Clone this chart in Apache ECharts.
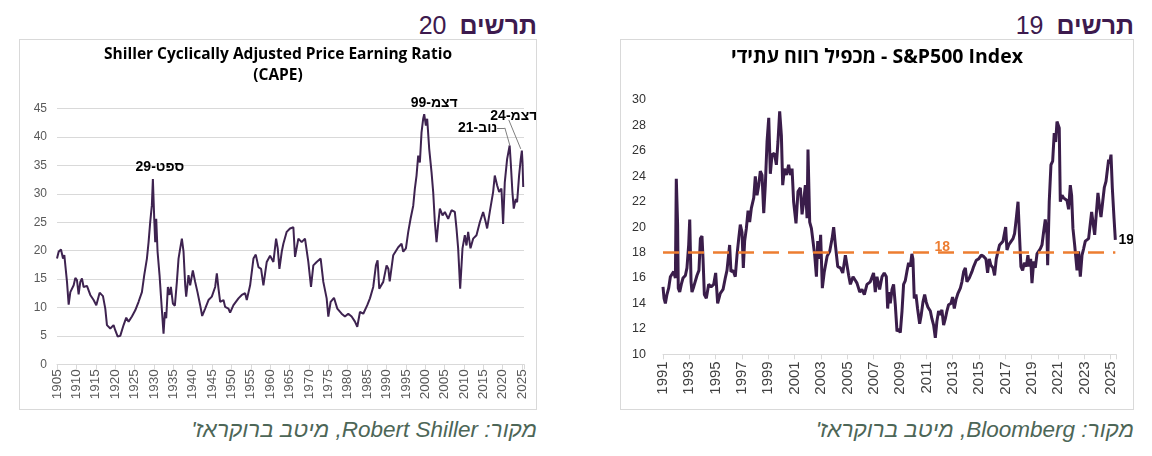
<!DOCTYPE html>
<html lang="he">
<head>
<meta charset="utf-8">
<script src="https://cdn.jsdelivr.net/npm/echarts@6/dist/echarts.min.js"></script>
<style>
  body { margin: 0; width: 1152px; height: 456px; background: #fff; overflow: hidden;
         font-family: "Liberation Sans", "DejaVu Sans", Arial, sans-serif; }
  .head { position: absolute; top: 11px; font-size: 25px; color: #3d1a4e; direction: rtl; white-space: nowrap; }
  .head b { font-weight: bold; }
  .head .num { margin-right: 13px; }
  .box { position: absolute; top: 39px; height: 371px; border: 1px solid #d9d9d9; box-sizing: border-box; }
  .chart { position: absolute; left: 0; top: 0; width: 100%; height: 100%; }
  .ttl { position: absolute; left: 0; right: 0; text-align: center; font-family: "Open Sans", "DejaVu Sans", sans-serif;
         font-weight: bold; color: #000; z-index: 2; white-space: nowrap; }
  .src { position: absolute; top: 417px; font-size: 22.5px; font-style: italic; color: #4d6657; direction: rtl; white-space: nowrap; }
</style>
</head>
<body>

<div class="head" style="right:615px"><b>תרשים</b><span class="num">20</span></div>
<div class="box" style="left:19px;width:518px">
  <div class="ttl" style="top:3px;font-size:15.5px;line-height:21px">Shiller Cyclically Adjusted Price Earning Ratio<br>(CAPE)</div>
  <div id="cape" class="chart"></div>
</div>
<div class="src" style="right:615px">מקור: Robert Shiller, מיטב ברוקראז'</div>

<div class="head" style="right:18px"><b>תרשים</b><span class="num">19</span></div>
<div class="box" style="left:620px;width:514px">
  <div class="ttl" style="top:3px;font-size:19.5px;line-height:26px">מכפיל רווח עתידי - S&amp;P500 Index</div>
  <div id="pe" class="chart"></div>
</div>
<div class="src" style="right:18px">מקור: Bloomberg, מיטב ברוקראז'</div>

<script>
// Shiller CAPE, [year, ratio]
const capePoints = [
  [1905.0,18.6],[1905.43,19.8],[1906.03,20.2],[1906.55,18.6],[1906.89,19.2],[1907.58,14.5],[1908.01,10.5],
  [1908.44,12.7],[1909.3,13.9],[1909.73,15.2],[1910.15,14.8],[1910.58,12.3],[1911.01,14.5],[1911.44,15.1],
  [1911.87,13.6],[1912.73,13.8],[1913.59,12.2],[1914.45,11.3],[1915.14,10.4],[1916.0,12.6],[1916.86,12.0],
  [1917.46,9.8],[1917.89,6.9],[1918.75,6.3],[1919.6,6.9],[1920.03,6.0],[1920.64,4.9],[1921.32,5.0],
  [1922.18,6.9],[1922.87,8.2],[1923.47,7.5],[1924.33,8.4],[1925.19,9.5],[1926.05,11.0],[1926.91,12.7],
  [1927.51,15.7],[1928.2,18.6],[1928.63,21.5],[1929.05,25.0],[1929.48,28.0],[1929.74,32.6],[1930.09,25.6],
  [1930.34,21.5],[1930.6,25.6],[1930.95,19.8],[1931.46,15.7],[1931.8,12.2],[1932.15,8.7],[1932.49,5.4],
  [1932.84,9.2],[1933.18,8.1],[1933.61,13.6],[1934.04,12.2],[1934.38,13.6],[1934.9,10.7],[1935.41,10.3],
  [1935.93,14.5],[1936.36,18.6],[1936.79,20.4],[1937.22,22.1],[1937.65,19.8],[1938.08,13.9],[1938.33,11.9],
  [1938.93,15.7],[1939.36,13.9],[1940.05,16.5],[1940.65,14.5],[1941.25,12.7],[1941.94,10.4],[1942.46,8.5],
  [1943.23,9.8],[1944.09,11.3],[1944.95,11.9],[1945.81,13.6],[1946.24,16.0],[1946.67,13.3],[1947.1,11.0],
  [1947.96,11.3],[1948.38,10.1],[1949.24,9.8],[1949.67,9.1],[1950.53,10.4],[1951.82,11.6],[1952.68,12.2],
  [1953.54,12.5],[1953.97,11.3],[1954.83,13.9],[1955.69,18.6],[1956.29,19.3],[1956.98,17.1],[1957.66,16.8],
  [1958.26,13.9],[1959.12,18.0],[1959.98,19.1],[1960.84,18.0],[1961.53,22.1],[1961.96,20.4],[1962.39,16.8],
  [1962.99,19.8],[1963.41,21.2],[1963.85,21.5],[1964.27,23.3],[1964.71,23.3],[1965.13,23.9],[1965.99,24.1],
  [1966.42,18.9],[1967.28,22.1],[1968.13,21.5],[1968.99,22.1],[1969.85,18.0],[1970.54,13.6],[1971.14,17.4],
  [1972.0,18.0],[1973.03,18.6],[1973.72,14.5],[1974.58,11.6],[1975.01,8.4],[1975.61,11.0],[1976.47,11.7],
  [1977.33,9.8],[1978.44,8.9],[1979.3,8.4],[1980.16,8.9],[1981.02,8.4],[1981.88,7.5],[1982.48,6.6],
  [1983.17,9.2],[1984.03,8.9],[1985.06,10.4],[1985.75,11.6],[1986.6,13.6],[1987.29,17.4],[1987.72,18.3],
  [1988.15,13.3],[1989.18,14.5],[1990.04,17.4],[1990.5,16.8],[1990.85,14.6],[1991.76,19.2],[1993.05,20.6],
  [1993.91,21.2],[1994.34,19.8],[1995.03,20.4],[1995.63,23.3],[1996.23,25.6],[1996.92,27.9],[1997.34,30.9],
  [1997.77,33.2],[1998.2,36.7],[1998.63,35.5],[1999.06,40.8],[1999.49,43.2],[1999.75,44.0],[2000.18,42.0],
  [2000.52,43.2],[2001.04,37.9],[2001.64,33.8],[2002.07,30.3],[2002.5,25.0],[2002.93,21.5],[2003.36,24.7],
  [2003.79,27.4],[2004.48,26.2],[2005.08,26.8],[2005.94,25.6],[2006.79,27.1],[2007.65,26.8],[2008.08,23.9],
  [2008.51,20.4],[2009.03,13.3],[2009.63,20.4],[2010.23,22.7],[2010.66,20.9],[2011.09,23.3],[2011.69,20.4],
  [2012.38,22.1],[2013.24,22.7],[2014.1,25.0],[2014.96,26.8],[2015.64,25.0],[2015.99,23.9],[2016.67,26.8],
  [2017.53,30.3],[2017.96,33.2],[2018.56,31.5],[2019.08,30.3],[2019.68,30.9],[2020.11,24.7],[2020.54,32.0],
  [2021.14,36.1],[2021.8,38.5],[2022.08,35.5],[2022.51,30.3],[2022.86,27.4],[2023.37,29.1],[2023.72,28.5],
  [2024.23,33.2],[2024.66,36.1],[2024.95,37.6],[2025.12,35.5],[2025.3,31.2]
];

// peaks that carry a date label: [text, year, ratio, label offset px]
const capeNotes = [
  ['ספט-29', 1929.74, 32.6, [7, -12]],
  ['דצמ-99', 1999.75, 44.0, [10, -11]],
  ['נוב-21', 2021.8, 38.5, [-32, -17]],
  ['דצמ-24', 2024.95, 37.6, [-8, -34]]
];

// grey leader lines from the two late labels down to their peaks
const capeLeaders = [
  [[2018.5, 41.6], [2020.56, 41.6]],
  [[2020.56, 41.6], [2021.85, 38.5]],
  [[2021.57, 43.0], [2024.66, 37.9]]
];

// S&P500 forward P/E, [year, multiple]
const pePoints = [
  [1991.0,15.3],[1991.08,14.4],[1991.18,14.0],[1991.3,14.7],[1991.43,15.2],[1991.56,16.1],[1991.68,16.2],
  [1991.81,16.5],[1991.94,16.0],[1992.01,23.8],[1992.11,20.2],[1992.16,15.2],[1992.27,14.9],[1992.39,15.5],
  [1992.52,16.0],[1992.7,16.2],[1992.82,16.8],[1992.95,18.6],[1993.03,20.6],[1993.13,15.7],[1993.2,14.9],
  [1993.33,15.3],[1993.46,15.2],[1993.58,16.2],[1993.73,16.6],[1993.84,19.1],[1993.96,19.3],[1994.04,17.5],
  [1994.14,14.7],[1994.29,14.4],[1994.47,15.5],[1994.65,15.3],[1994.85,15.5],[1995.0,16.4],[1995.15,14.0],
  [1995.35,14.8],[1995.56,15.1],[1995.73,16.0],[1995.86,16.6],[1996.06,18.6],[1996.16,16.5],[1996.32,16.6],
  [1996.49,16.1],[1996.62,17.8],[1996.75,19.1],[1996.87,20.2],[1997.0,19.6],[1997.1,16.8],[1997.2,18.9],
  [1997.33,19.9],[1997.46,21.3],[1997.58,20.4],[1997.71,21.5],[1997.89,22.3],[1998.01,24.0],[1998.14,22.5],
  [1998.27,23.3],[1998.39,24.4],[1998.52,24.1],[1998.65,21.1],[1998.77,23.3],[1998.9,26.7],[1999.03,28.6],
  [1999.15,24.2],[1999.28,25.7],[1999.46,25.8],[1999.61,24.9],[1999.73,26.7],[1999.86,29.1],[1999.99,27.2],
  [2000.09,23.3],[2000.22,24.6],[2000.37,24.1],[2000.54,24.9],[2000.67,24.1],[2000.8,24.6],[2000.92,22.0],
  [2001.1,20.3],[2001.25,22.8],[2001.43,23.1],[2001.56,21.0],[2001.68,22.0],[2001.81,23.3],[2001.94,20.7],
  [2002.01,26.1],[2002.14,20.4],[2002.27,19.9],[2002.39,18.9],[2002.52,17.8],[2002.65,16.1],[2002.75,18.9],
  [2002.87,17.5],[2002.97,19.4],[2003.1,15.2],[2003.25,16.5],[2003.46,17.7],[2003.66,18.1],[2003.84,19.1],
  [2003.96,20.0],[2004.09,18.6],[2004.27,16.9],[2004.47,16.8],[2004.65,16.4],[2004.85,17.8],[2004.97,17.8],
  [2005.1,16.2],[2005.23,15.5],[2005.43,16.1],[2005.61,15.8],[2005.73,15.6],[2005.94,14.9],[2006.11,15.1],
  [2006.29,14.7],[2006.49,15.5],[2006.74,15.7],[2006.99,16.4],[2007.12,14.9],[2007.25,16.1],[2007.45,15.1],
  [2007.63,16.1],[2007.8,16.4],[2007.96,16.1],[2008.06,13.6],[2008.16,14.9],[2008.26,14.0],[2008.39,15.1],
  [2008.51,15.5],[2008.64,13.9],[2008.77,11.8],[2008.89,12.0],[2009.02,11.7],[2009.15,13.4],[2009.27,15.5],
  [2009.4,15.8],[2009.52,16.5],[2009.65,17.2],[2009.78,16.9],[2009.9,17.9],[2009.98,17.5],[2010.08,14.4],
  [2010.21,14.7],[2010.33,13.6],[2010.49,12.4],[2010.61,13.1],[2010.74,14.1],[2010.87,14.7],[2010.99,14.1],
  [2011.12,13.7],[2011.3,13.4],[2011.42,12.8],[2011.55,12.3],[2011.68,11.3],[2011.8,12.6],[2011.93,13.4],
  [2012.06,13.1],[2012.18,13.5],[2012.31,12.3],[2012.44,12.8],[2012.56,13.4],[2012.69,13.9],[2012.87,14.0],
  [2012.99,14.5],[2013.12,13.6],[2013.25,14.3],[2013.4,14.8],[2013.58,15.2],[2013.7,15.7],[2013.83,16.5],
  [2013.96,16.8],[2014.08,15.7],[2014.26,16.0],[2014.46,16.5],[2014.59,16.9],[2014.79,17.4],[2014.97,17.5],
  [2015.17,17.8],[2015.35,17.7],[2015.52,17.5],[2015.65,16.4],[2015.78,17.5],[2015.9,17.0],[2016.06,16.8],
  [2016.18,16.2],[2016.31,17.5],[2016.44,18.1],[2016.56,18.6],[2016.69,18.5],[2016.82,18.9],[2016.92,18.9],
  [2017.02,20.0],[2017.12,18.2],[2017.25,18.6],[2017.37,18.6],[2017.58,19.1],[2017.7,19.5],[2017.83,20.7],
  [2017.96,22.0],[2018.06,19.6],[2018.18,16.9],[2018.31,16.6],[2018.44,17.2],[2018.59,16.9],[2018.71,17.8],
  [2018.82,16.9],[2018.92,17.5],[2019.02,15.6],[2019.15,17.3],[2019.27,16.8],[2019.4,17.9],[2019.52,17.8],
  [2019.65,18.3],[2019.78,18.6],[2019.9,19.6],[2020.03,20.6],[2020.16,19.4],[2020.21,17.0],[2020.33,22.0],
  [2020.46,24.9],[2020.59,25.2],[2020.71,27.4],[2020.82,26.7],[2020.92,28.3],[2020.99,28.4],[2021.09,27.8],
  [2021.17,22.0],[2021.3,22.5],[2021.42,22.3],[2021.55,22.4],[2021.68,22.1],[2021.8,21.4],[2021.93,23.3],
  [2022.03,22.5],[2022.13,19.9],[2022.26,18.6],[2022.39,18.6],[2022.44,16.6],[2022.56,18.1],[2022.69,16.1],
  [2022.82,17.8],[2022.94,18.3],[2023.07,18.9],[2023.2,19.0],[2023.32,19.1],[2023.45,19.1],[2023.55,21.2],
  [2023.65,20.4],[2023.78,19.4],[2023.9,21.0],[2024.03,22.7],[2024.16,21.5],[2024.26,20.8],[2024.39,22.0],
  [2024.51,23.1],[2024.64,23.6],[2024.71,24.2],[2024.84,25.3],[2024.92,25.0],[2025.02,25.7],[2025.12,23.1],
  [2025.25,20.7],[2025.35,19.0]
];

const peAverage = 18;        // long-run average, dashed orange
const peAverageLabelAt = 2012.2;
const peFirstYear = 1991;    // x axis counts years from here so ticks fall on odd years

const purpleCape = '#3e2350';
const purplePe = '#3a1d4a';
const orange = '#ed7d31';
const gridGrey = '#d9d9d9';

// ---------- chart 20: CAPE ----------
const capeChart = echarts.init(document.getElementById('cape'));
capeChart.setOption({
  animation: false,
  grid: {left: 37, right: 12, top: 68.5, bottom: 44.7},
  xAxis: {
    type: 'value', min: 1905, max: 2025.5, interval: 5,
    axisLine: {lineStyle: {color: gridGrey}},
    axisTick: {length: 5, lineStyle: {color: gridGrey}},
    splitLine: {show: false},
    axisLabel: {
      rotate: 90, margin: 5, fontSize: 13.5, color: '#595959', fontFamily: 'Liberation Sans',
      formatter: v => (v % 5 === 0 ? String(v) : '')
    }
  },
  yAxis: {
    type: 'value', min: 0, max: 45, interval: 5,
    axisLine: {show: false}, axisTick: {show: false},
    axisLabel: {margin: 10, fontSize: 12, color: '#595959', fontFamily: 'Liberation Sans'},
    splitLine: {lineStyle: {color: gridGrey}}
  },
  series: [{
    type: 'line',
    data: capePoints,
    showSymbol: false,
    clip: false,
    lineStyle: {color: purpleCape, width: 2},
    itemStyle: {color: purpleCape},
    markPoint: {
      symbol: 'circle', symbolSize: 0.1, silent: true,
      label: {show: true, position: 'inside', formatter: '{b}', color: '#000',
              fontWeight: 'bold', fontSize: 14, fontFamily: 'Liberation Sans'},
      data: capeNotes.map(n => ({name: n[0], coord: [n[1], n[2]], label: {offset: n[3]}}))
    },
    markLine: {
      symbol: ['none', 'none'], silent: true,
      label: {show: false},
      lineStyle: {color: '#7f7f7f', width: 1, type: 'solid'},
      data: capeLeaders.map(s => [{coord: s[0]}, {coord: s[1]}])
    }
  }]
});

// ---------- chart 19: S&P500 forward P/E ----------
const peData = pePoints.map(p => [+(p[0] - peFirstYear).toFixed(3), p[1]]);
const peLast = peData[peData.length - 1];

const peChart = echarts.init(document.getElementById('pe'));
peChart.setOption({
  animation: false,
  grid: {left: 42, right: 17, top: 60, bottom: 54.7},
  xAxis: {
    type: 'value', min: 0, max: 34.4, interval: 2,
    axisLine: {lineStyle: {color: gridGrey}},
    axisTick: {length: 5, lineStyle: {color: gridGrey}},
    splitLine: {show: false},
    axisLabel: {
      rotate: 90, margin: 7, fontSize: 15, color: '#404040', fontFamily: 'Liberation Sans',
      formatter: v => (v % 2 === 0 ? String(peFirstYear + v) : '')
    }
  },
  yAxis: {
    type: 'value', min: 10, max: 30, interval: 2,
    axisLine: {show: false}, axisTick: {show: false}, splitLine: {show: false},
    axisLabel: {margin: 17, fontSize: 12.5, color: '#333', fontFamily: 'Liberation Sans'}
  },
  series: [
    {
      type: 'line',
      data: peData,
      showSymbol: false,
      clip: false,
      lineStyle: {color: purplePe, width: 3},
      itemStyle: {color: purplePe},
      markPoint: {
        symbol: 'circle', symbolSize: 0.1, silent: true,
        label: {show: true, position: 'right', distance: 3, color: '#000', fontWeight: 'bold',
                fontSize: 14, fontFamily: 'Liberation Sans', formatter: '{b}'},
        data: [{name: String(Math.round(peLast[1])), coord: peLast}]
      }
    },
    {
      type: 'line',
      data: [[0, peAverage], [peLast[0], peAverage]],
      showSymbol: false,
      clip: false,
      lineStyle: {color: orange, width: 2.5, type: [16, 9]},
      itemStyle: {color: orange},
      markPoint: {
        symbol: 'circle', symbolSize: 0.1, silent: true,
        label: {show: true, position: 'inside', offset: [0, -5], color: orange, fontWeight: 'bold',
                fontSize: 14, fontFamily: 'Liberation Sans', formatter: '{b}'},
        data: [{name: String(peAverage), coord: [peAverageLabelAt - peFirstYear, peAverage]}]
      }
    }
  ]
});
</script>
</body>
</html>
